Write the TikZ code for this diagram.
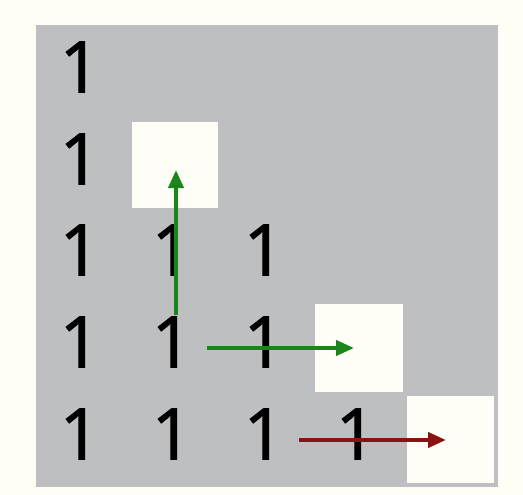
\documentclass[tikz,border=0pt]{standalone}
\usepackage{fontspec}
\setmainfont{Open Sans}
\newfontfamily\digitfont{Open Sans}[FakeBold=1.5]
\usetikzlibrary{arrows.meta}
\definecolor{bgc}{HTML}{FEFEF7}
\definecolor{grayc}{HTML}{BDBFC1}
\definecolor{cellc}{HTML}{FEFEF6}
\definecolor{greenc}{HTML}{1A861A}
\definecolor{redc}{HTML}{8A1212}
\tikzset{
  digit/.style={inner sep=0pt, font=\digitfont\fontsize{71}{71}\selectfont, text=black},
  cellbox/.style={fill=cellc, draw=none},
  arr/.style={line width=4pt, -{Triangle[length=18pt,width=15pt]}},
}
\begin{document}
\begin{tikzpicture}[x=1pt,y=-1pt]
\useasboundingbox (0,0) rectangle (523,495);
\fill[bgc] (0,0) rectangle (523,495);
\fill[grayc] (36,25) rectangle (498,487);
\fill[cellbox] (132,122) rectangle (218,208);
\fill[cellbox] (315,304) rectangle (403,392);
\fill[cellbox] (407,396) rectangle (494,483);
\node[digit] (d00) at (80,67) {1};
\node[digit] (d10) at (80,159) {1};
\node[digit] (d20) at (80,250) {1};
\node[digit] (d21) at (172,250) {1};
\node[digit] (d22) at (264,250) {1};
\node[digit] (d30) at (80,342) {1};
\node[digit] (d31) at (172,342) {1};
\node[digit] (d32) at (264,342) {1};
\node[digit] (d40) at (80,434) {1};
\node[digit] (d41) at (172,434) {1};
\node[digit] (d42) at (264,434) {1};
\node[digit] (d43) at (356,434) {1};
\coordinate (g1s) at (176,315);
\coordinate (g1e) at (176,170);
\coordinate (g2s) at (207,348);
\coordinate (g2e) at (354,348);
\coordinate (r1s) at (299,440);
\coordinate (r1e) at (446,440);
\draw[arr, greenc] (g1s) -- (g1e);
\draw[arr, greenc] (g2s) -- (g2e);
\draw[arr, redc] (r1s) -- (r1e);
\end{tikzpicture}
\end{document}
